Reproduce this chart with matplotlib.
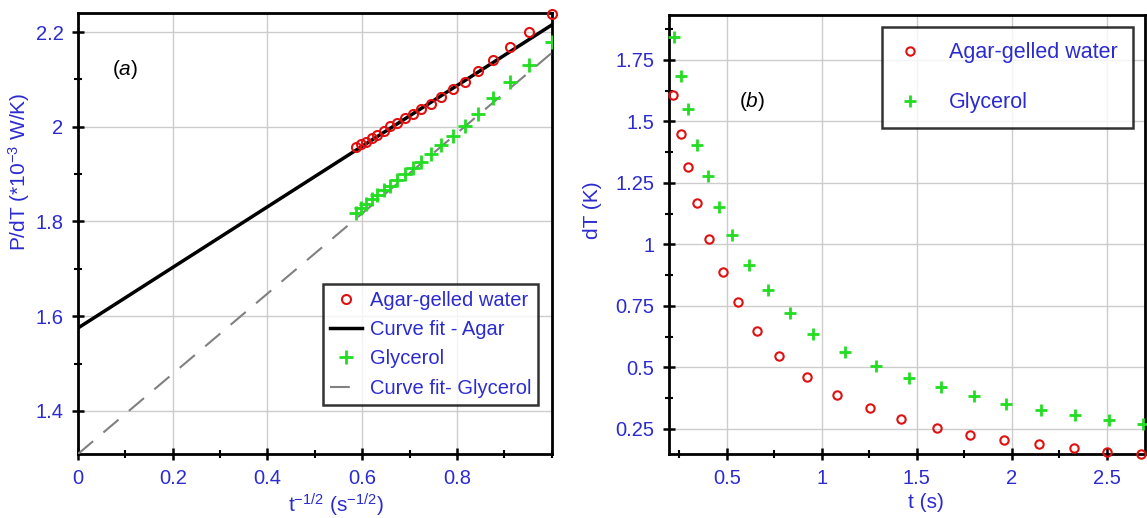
import matplotlib
matplotlib.use("Agg")
import matplotlib.pyplot as plt
from matplotlib.ticker import MultipleLocator

plt.rcParams['font.family'] = ['Liberation Sans', 'DejaVu Sans']
plt.rcParams['mathtext.fontset'] = 'custom'
plt.rcParams['mathtext.rm'] = 'Liberation Sans'
plt.rcParams['mathtext.it'] = 'Liberation Sans:italic'
BLUE = '#2b2bd0'

# panel (a): P/dT against t^-1/2
x_a = [1.000, 0.953, 0.913, 0.877, 0.845, 0.816, 0.791, 0.767, 0.745, 0.725,
       0.707, 0.690, 0.674, 0.659, 0.645, 0.632, 0.620, 0.609, 0.598, 0.587]
agar_a = [2.239, 2.200, 2.169, 2.141, 2.118, 2.095, 2.079, 2.063, 2.049, 2.037,
          2.027, 2.018, 2.009, 2.001, 1.992, 1.982, 1.976, 1.968, 1.963, 1.958]
glyc_a = [2.180, 2.130, 2.095, 2.060, 2.028, 2.001, 1.980, 1.961, 1.942, 1.926,
          1.912, 1.900, 1.887, 1.875, 1.866, 1.856, 1.847, 1.837, 1.828, 1.818]
fit_x = [0.0, 1.0]
fit_agar = [1.575, 2.215]
fit_glyc = [1.309, 2.156]

# panel (b): dT against t
t_agar = [0.214, 0.256, 0.296, 0.344, 0.407, 0.477, 0.560, 0.656, 0.775, 0.919,
          1.077, 1.253, 1.419, 1.604, 1.782, 1.960, 2.144, 2.326, 2.502, 2.683]
dT_agar = [1.608, 1.449, 1.314, 1.170, 1.023, 0.889, 0.765, 0.650, 0.547, 0.461,
           0.388, 0.334, 0.289, 0.255, 0.227, 0.205, 0.187, 0.171, 0.158, 0.147]
t_glyc = [0.221, 0.258, 0.293, 0.344, 0.398, 0.460, 0.525, 0.617, 0.718, 0.832,
          0.954, 1.121, 1.284, 1.460, 1.626, 1.802, 1.972, 2.153, 2.332, 2.512, 2.691]
dT_glyc = [1.845, 1.685, 1.550, 1.405, 1.280, 1.154, 1.039, 0.917, 0.815, 0.720,
           0.636, 0.564, 0.506, 0.456, 0.419, 0.384, 0.352, 0.325, 0.308, 0.285, 0.268]

fig = plt.figure(figsize=(11.47, 5.18), dpi=100)
ax1 = fig.add_axes([0.068, 0.1236, 0.413, 0.851])
ax2 = fig.add_axes([0.5833, 0.1236, 0.4147, 0.8475])


def style(ax):
    ax.grid(True, which='major', color='#cccccc', lw=1.0)
    ax.set_axisbelow(True)
    for s in ax.spines.values():
        s.set_linewidth(2)
        s.set_color('black')
    ax.tick_params(which='major', direction='inout', length=9, width=1.8, pad=6,
                   labelsize=14.5, labelcolor=BLUE, top=False, right=False)
    ax.tick_params(which='minor', direction='inout', length=6, width=1.5,
                   top=False, right=False)


ax1.plot(x_a, agar_a, 'o', ms=6.5, mfc='none', mec='#e01010', mew=1.5,
         label='Agar-gelled water', zorder=4, clip_on=False)
ax1.plot(fit_x, fit_agar, '-', color='black', lw=2.5, label='Curve fit - Agar', zorder=3)
ax1.plot(x_a, glyc_a, '+', ms=10, color='#22dd22', mew=2, label='Glycerol', zorder=4)
ax1.plot(fit_x, fit_glyc, color='#808080', lw=1.5, dashes=(9.5, 6.5),
         label='Curve fit- Glycerol', zorder=3)
ax1.xaxis.set_minor_locator(MultipleLocator(0.1))
ax1.yaxis.set_minor_locator(MultipleLocator(0.1))
style(ax1)
ax1.set_xticks([0, 0.2, 0.4, 0.6, 0.8])
ax1.set_xticklabels(['0', '0.2', '0.4', '0.6', '0.8'])
ax1.set_yticks([1.4, 1.6, 1.8, 2.0, 2.2])
ax1.set_yticklabels(['1.4', '1.6', '1.8', '2', '2.2'])
ax1.set_xlim(0, 1.0)
ax1.set_ylim(1.309, 2.24)
ax1.set_xlabel(r't$^{\mathregular{-1/2}}$ (s$^{\mathregular{-1/2}}$)', color=BLUE, fontsize=15)
ax1.xaxis.set_label_coords(0.545, -0.085)
ax1.set_ylabel(r'P/dT (*10$^{\mathregular{-3}}$ W/K)', color=BLUE, fontsize=15)
ax1.yaxis.set_label_coords(-0.097, 0.64)
ax1.text(0.072, 0.86, r'($\mathit{a}$)', transform=ax1.transAxes, fontsize=15)
leg1 = ax1.legend(loc='lower right', bbox_to_anchor=(0.972, 0.112), fontsize=14.5,
                  frameon=True, fancybox=False, edgecolor='black', labelspacing=0.5,
                  handlelength=1.6, handletextpad=0.4, borderpad=0.35, borderaxespad=0)
leg1.get_frame().set_linewidth(1.8)
for txt in leg1.get_texts():
    txt.set_color(BLUE)

ax2.plot(t_agar, dT_agar, 'o', ms=6, mfc='none', mec='#e01010', mew=1.5,
         label='Agar-gelled water', zorder=4, clip_on=False)
ax2.plot(t_glyc, dT_glyc, '+', ms=9, color='#22dd22', mew=2, label='Glycerol',
         zorder=4, clip_on=False)
ax2.xaxis.set_minor_locator(MultipleLocator(0.25))
ax2.yaxis.set_minor_locator(MultipleLocator(0.125))
style(ax2)
ax2.set_xticks([0.5, 1.0, 1.5, 2.0, 2.5])
ax2.set_xticklabels(['0.5', '1', '1.5', '2', '2.5'])
ax2.set_yticks([0.25, 0.5, 0.75, 1.0, 1.25, 1.5, 1.75])
ax2.set_yticklabels(['0.25', '0.5', '0.75', '1', '1.25', '1.5', '1.75'])
ax2.set_xlim(0.195, 2.70)
ax2.set_ylim(0.148, 1.933)
ax2.set_xlabel('t (s)', color=BLUE, fontsize=15)
ax2.xaxis.set_label_coords(0.54, -0.09)
ax2.set_ylabel('dT (K)', color=BLUE, fontsize=15)
ax2.yaxis.set_label_coords(-0.14, 0.556)
ax2.text(0.148, 0.79, r'($\mathit{b}$)', transform=ax2.transAxes, fontsize=15)
leg2 = ax2.legend(loc='upper right', bbox_to_anchor=(0.975, 0.972), fontsize=15.5,
                  frameon=True, fancybox=False, edgecolor='black', labelspacing=1.35,
                  handlelength=1.2, handletextpad=1.2, borderpad=0.7, borderaxespad=0)
leg2.get_frame().set_linewidth(1.8)
for txt in leg2.get_texts():
    txt.set_color(BLUE)

fig.savefig('out.png', dpi=100)
